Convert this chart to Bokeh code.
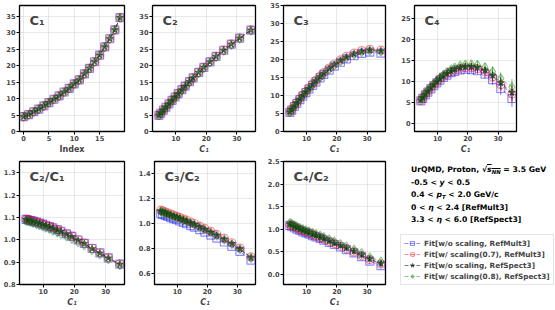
import numpy as np
from bokeh.plotting import figure
from bokeh.layouts import row, column
from bokeh.models import Range1d, FixedTicker, PrintfTickFormatter, Label, Legend, LegendItem, Div
from bokeh.embed import file_html
from bokeh.resources import INLINE

# ---------------- data ----------------
index = list(range(20))
c1 = [4.5, 5.1, 6.0, 6.8, 7.8, 8.8, 9.8, 10.8, 12.0, 13.1, 14.5, 15.7, 17.5, 19.2, 21.2, 23.2, 25.7, 28.2, 30.9, 34.6]

# C2/C1
r21_nos_mult = [1.091, 1.089, 1.086, 1.083, 1.079, 1.075, 1.070, 1.065, 1.059, 1.053, 1.045, 1.038, 1.026, 1.015, 0.999, 0.984, 0.961, 0.941, 0.919, 0.891]
r21_s07_mult = [1.092, 1.090, 1.087, 1.084, 1.080, 1.076, 1.071, 1.066, 1.060, 1.054, 1.046, 1.039, 1.027, 1.016, 1.000, 0.985, 0.962, 0.942, 0.920, 0.892]
r21_nos_spect = [1.090, 1.088, 1.085, 1.082, 1.078, 1.074, 1.069, 1.064, 1.058, 1.052, 1.044, 1.037, 1.025, 1.014, 0.998, 0.983, 0.960, 0.940, 0.918, 0.890]
r21_s08_spect = [1.085, 1.083, 1.079, 1.075, 1.070, 1.065, 1.060, 1.054, 1.048, 1.041, 1.033, 1.026, 1.015, 1.004, 0.989, 0.975, 0.953, 0.934, 0.913, 0.887]

# C3/C2
r32_nos_mult = [1.080, 1.074, 1.066, 1.058, 1.049, 1.040, 1.031, 1.021, 1.010, 0.999, 0.984, 0.972, 0.951, 0.932, 0.908, 0.884, 0.852, 0.817, 0.776, 0.706]
r32_s07_mult = [1.108, 1.102, 1.094, 1.086, 1.077, 1.068, 1.059, 1.050, 1.038, 1.028, 1.013, 1.001, 0.980, 0.961, 0.938, 0.913, 0.881, 0.846, 0.803, 0.732]
r32_nos_spect = [1.100, 1.094, 1.086, 1.078, 1.069, 1.060, 1.051, 1.042, 1.030, 1.020, 1.005, 0.993, 0.972, 0.953, 0.930, 0.905, 0.873, 0.838, 0.796, 0.725]
r32_s08_spect = [1.098, 1.092, 1.084, 1.076, 1.067, 1.058, 1.049, 1.040, 1.028, 1.018, 1.003, 0.991, 0.970, 0.951, 0.928, 0.903, 0.871, 0.836, 0.794, 0.723]

# C4/C2
r42_nos_mult = [1.08, 1.06, 1.03, 1.00, 0.97, 0.94, 0.915, 0.89, 0.855, 0.828, 0.792, 0.757, 0.707, 0.658, 0.602, 0.546, 0.472, 0.390, 0.290, 0.190]
r42_s07_mult = [1.10, 1.08, 1.05, 1.02, 0.99, 0.96, 0.935, 0.91, 0.875, 0.847, 0.810, 0.776, 0.726, 0.677, 0.622, 0.566, 0.494, 0.413, 0.322, 0.225]
r42_nos_spect = [1.11, 1.09, 1.06, 1.03, 1.00, 0.97, 0.945, 0.92, 0.885, 0.858, 0.822, 0.788, 0.738, 0.690, 0.635, 0.580, 0.508, 0.428, 0.337, 0.235]
r42_s08_spect = [1.14, 1.12, 1.09, 1.06, 1.03, 1.00, 0.975, 0.95, 0.916, 0.889, 0.853, 0.820, 0.770, 0.722, 0.668, 0.614, 0.543, 0.465, 0.375, 0.280]

# uncertainties on C3 and C4
e3_all = [0.03, 0.03, 0.04, 0.04, 0.05, 0.05, 0.06, 0.06, 0.07, 0.08, 0.09, 0.10, 0.11, 0.12, 0.14, 0.16, 0.18, 0.21, 0.25, 0.30]
e4_mult = [0.15, 0.17, 0.20, 0.22, 0.25, 0.28, 0.31, 0.34, 0.38, 0.42, 0.47, 0.52, 0.60, 0.68, 0.78, 0.90, 1.05, 1.25, 1.55, 2.00]
e4_spect = [0.15, 0.17, 0.20, 0.22, 0.25, 0.28, 0.31, 0.34, 0.38, 0.42, 0.47, 0.52, 0.60, 0.68, 0.78, 0.90, 1.05, 1.25, 1.50, 1.90]

labels = ["Fit[w/o scaling, RefMult3]", "Fit[w/ scaling(0.7), RefMult3]",
          "Fit[w/o scaling, RefSpect3]", "Fit[w/ scaling(0.8), RefSpect3]"]

series = [
    dict(r21=r21_nos_mult, r32=r32_nos_mult, r42=r42_nos_mult, e4=e4_mult,
         color="#0000ff", marker="square", size=8, alpha=0.45, filled=False),
    dict(r21=r21_s07_mult, r32=r32_s07_mult, r42=r42_s07_mult, e4=e4_mult,
         color="#ff0000", marker="circle", size=8, alpha=0.45, filled=False),
    dict(r21=r21_nos_spect, r32=r32_nos_spect, r42=r42_nos_spect, e4=e4_spect,
         color="#222222", marker="star", size=7, alpha=0.6, filled=True),
    dict(r21=r21_s08_spect, r32=r32_s08_spect, r42=r42_s08_spect, e4=e4_spect,
         color="#008000", marker="diamond", size=9, alpha=0.45, filled=False),
]

FONT = "DejaVu Sans"

for s in series:
    x = np.array(c1)
    s["c1"] = c1
    s["c2"] = x * np.array(s["r21"])
    s["c3"] = s["c2"] * np.array(s["r32"])
    s["c4"] = s["c2"] * np.array(s["r42"])
    s["e3"] = np.array(e3_all)
    s["e32"] = np.array(e3_all) / s["c2"]
    s["e42"] = np.array(s["e4"]) / s["c2"]


def make_panel(w, h, bl, br, bt, bb, xr, yr, xt, yt, yfmt, title, xlabel, xlabel_style):
    p = figure(width=w, height=h, x_range=Range1d(*xr), y_range=Range1d(*yr),
               output_backend="svg", toolbar_location=None,
               min_border_left=bl, min_border_right=br, min_border_top=bt, min_border_bottom=bb)
    p.title.visible = False
    p.outline_line_color = "black"
    p.outline_line_width = 1.3
    p.outline_line_alpha = 1
    p.background_fill_color = "white"
    p.border_fill_color = "white"
    for ax in (p.xaxis[0], p.yaxis[0]):
        ax.axis_line_color = None
        ax.major_tick_line_color = "black"
        ax.major_tick_out = 3
        ax.major_tick_in = 0
        ax.minor_tick_line_color = None
        ax.major_label_text_font = FONT
        ax.major_label_text_font_size = "6.6px"
        ax.major_label_text_font_style = "bold"
        ax.major_label_standoff = 1
    p.xaxis.ticker = FixedTicker(ticks=xt)
    p.yaxis.ticker = FixedTicker(ticks=yt)
    p.yaxis.formatter = PrintfTickFormatter(format=yfmt)
    p.xaxis.axis_label = xlabel
    p.xaxis.axis_label_text_font = FONT
    p.xaxis.axis_label_text_font_size = "8px"
    p.xaxis.axis_label_text_font_style = xlabel_style
    p.xaxis.axis_label_standoff = 1
    p.grid.grid_line_color = "#b0b0b0"
    p.grid.grid_line_alpha = 0.35
    p.grid.grid_line_width = 0.8
    p.add_layout(Label(x=xr[0], y=yr[1], x_offset=10, y_offset=-7, text=title,
                       text_font=FONT, text_font_style="bold", text_font_size="13px",
                       text_baseline="top", text_align="left"))
    return p


def draw(p, xs, ykey, ekey=None):
    for s in series:
        x = np.array(xs, dtype=float)
        y = np.array(s[ykey], dtype=float)
        p.line(x, y, line_color=s["color"], line_alpha=s["alpha"], line_dash="4 2", line_width=1)
        if ekey is not None:
            e = np.array(s[ekey], dtype=float)
            p.segment(x0=x, y0=y - e, x1=x, y1=y + e, line_color=s["color"],
                      line_alpha=s["alpha"] + 0.1, line_width=1)
        if s["filled"]:
            p.scatter(x, y, marker=s["marker"], size=s["size"], line_color=s["color"],
                      fill_color=s["color"], line_alpha=s["alpha"], fill_alpha=s["alpha"])
        else:
            p.scatter(x, y, marker=s["marker"], size=s["size"], line_color=s["color"],
                      fill_alpha=0, line_alpha=s["alpha"], line_width=1.2)


XR = (2.4, 36.1)
CX = [10, 20, 30]
C1LAB = "C\u2081"

TOP_H, BOT_H = 156, 153

p1 = make_panel(136, TOP_H, 19, 12, 5, 23, (-0.8, 19.9), (0, 38.3), [0, 5, 10, 15],
                [0, 5, 10, 15, 20, 25, 30, 35], "%d", "C\u2081", "Index", "bold")
draw(p1, index, "c1")
p2 = make_panel(131, TOP_H, 14, 12, 5, 23, XR, (0, 38.3), CX,
                [0, 5, 10, 15, 20, 25, 30, 35], "%d", "C\u2082", C1LAB, "bold italic")
draw(p2, c1, "c2")
p3 = make_panel(131, TOP_H, 13, 13, 5, 23, XR, (0, 35), CX,
                [0, 5, 10, 15, 20, 25, 30, 35], "%d", "C\u2083", C1LAB, "bold italic")
draw(p3, c1, "c3", "e3")
p4 = make_panel(157, TOP_H, 13, 39, 5, 23, XR, (-2, 28), CX,
                [0, 5, 10, 15, 20, 25], "%d", "C\u2084", C1LAB, "bold italic")
draw(p4, c1, "c4", "e4")

p5 = make_panel(135, BOT_H, 19, 11, 5, 22, XR, (0.8, 1.35), CX,
                [0.8, 0.9, 1.0, 1.1, 1.2, 1.3], "%.1f", "C\u2082/C\u2081", C1LAB, "bold italic")
draw(p5, c1, "r21")
p6 = make_panel(129, BOT_H, 16, 9, 5, 22, XR, (0.51, 1.5), CX,
                [0.6, 0.8, 1.0, 1.2, 1.4], "%.1f", "C\u2083/C\u2082", C1LAB, "bold italic")
draw(p6, c1, "r32", "e32")
p7 = make_panel(134, BOT_H, 16, 13, 5, 22, XR, (-0.23, 2.5), CX,
                [0.0, 0.5, 1.0, 1.5, 2.0, 2.5], "%.1f", "C\u2084/C\u2082", C1LAB, "bold italic")
draw(p7, c1, "r42", "e42")

# ---- info text ----
SUB = "font-size:70%;line-height:0;vertical-align:-2px"
info_html = (
    "<div style=\"font-family:'DejaVu Sans';font-weight:bold;font-size:7.7px;line-height:12.5px;"
    "white-space:nowrap;color:#000;padding-top:8px;padding-left:13px\">"
    "UrQMD, Proton, \u221a<span style='text-decoration:overline'><i>s</i>"
    f"<sub style='{SUB}'><i>NN</i></sub></span> = 3.5 GeV<br>"
    "-0.5 &lt; <i>y</i> &lt; 0.5<br>"
    f"0.4 &lt; <i>p</i><sub style='{SUB}'><i>T</i></sub> &lt; 2.0 GeV/c<br>"
    "0 &lt; <i>\u03b7</i> &lt; 2.4 [RefMult3]<br>"
    "3.3 &lt; <i>\u03b7</i> &lt; 6.0 [RefSpect3]</div>"
)
div = Div(text=info_html, width=157, height=72, margin=0)

# ---- legend panel ----
p8 = figure(width=157, height=BOT_H - 72, x_range=Range1d(0, 1), y_range=Range1d(0, 1),
            output_backend="svg", toolbar_location=None,
            min_border_left=0, min_border_right=0, min_border_top=0, min_border_bottom=0)
p8.title.visible = False
p8.axis.visible = False
p8.grid.visible = False
p8.outline_line_color = None
NA = [float("nan")]
items = []
for s, lab in zip(series, labels):
    rl = p8.line(NA, NA, line_color=s["color"], line_alpha=s["alpha"], line_dash="4 2", line_width=1)
    if s["filled"]:
        rs = p8.scatter(NA, NA, marker=s["marker"], size=s["size"], line_color=s["color"],
                        fill_color=s["color"], line_alpha=s["alpha"], fill_alpha=s["alpha"])
    else:
        rs = p8.scatter(NA, NA, marker=s["marker"], size=s["size"], line_color=s["color"],
                        fill_alpha=0, line_alpha=s["alpha"], line_width=1.2)
    items.append(LegendItem(label=lab, renderers=[rl, rs]))
leg = Legend(items=items, location=(2, 24), label_text_font=FONT, label_text_font_style="bold",
             label_text_font_size="7.3px", glyph_width=16, glyph_height=10, label_height=10,
             spacing=1, padding=3, margin=0, label_standoff=4,
             border_line_color="#cccccc", background_fill_alpha=0.8)
p8.add_layout(leg)

right_col = column(div, p8)

layout = column(row(p1, p2, p3, p4), row(p5, p6, p7, right_col))

open("out.html", "w").write(file_html(layout, INLINE))
